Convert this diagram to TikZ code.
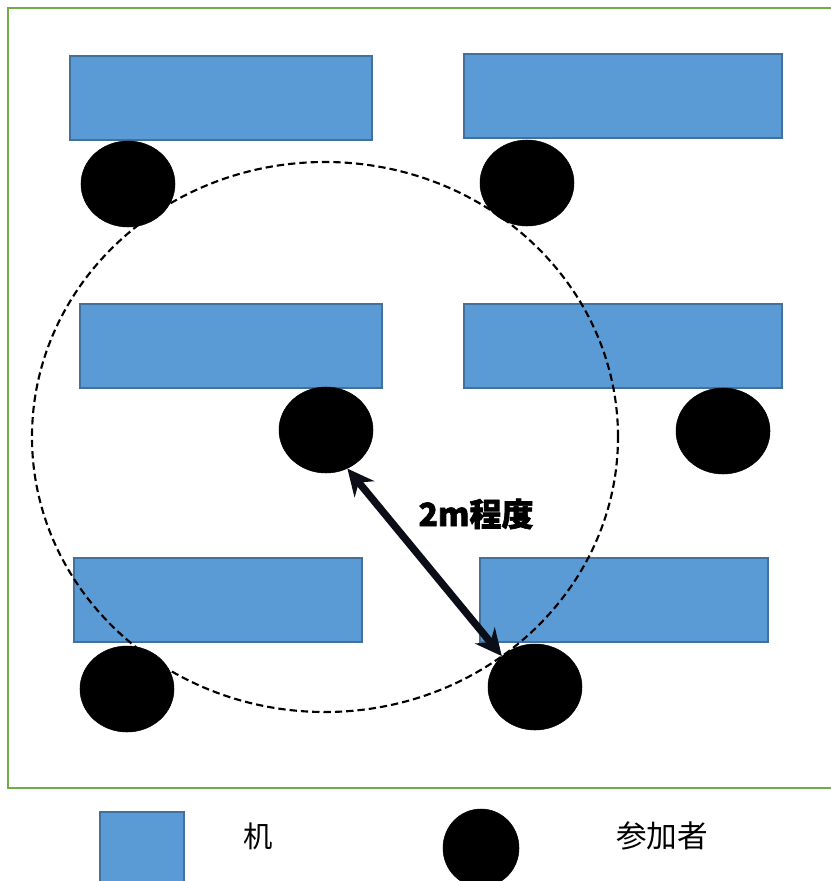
\documentclass[tikz,border=0pt]{standalone}
\usepackage{fontspec}
\newfontfamily\cjk{Noto Sans CJK JP}[BoldFeatures={FakeBold=2}]
\usetikzlibrary{shapes.geometric,arrows.meta}
\definecolor{deskfill}{HTML}{5B9BD5}
\definecolor{deskline}{HTML}{41719C}
\definecolor{roomline}{HTML}{70AD47}
\definecolor{arrowcol}{HTML}{0B0E17}
\tikzset{
  desk/.style={rectangle, fill=deskfill, draw=deskline, line width=1.8pt, inner sep=0pt, minimum height=63pt},
  person/.style={ellipse, fill=black, draw=black, inner sep=0pt, minimum width=70.5pt, minimum height=64.5pt},
  label/.style={font=\cjk, inner sep=0pt}
}
\begin{document}
\begin{tikzpicture}[x=0.75pt, y=-0.75pt]
\useasboundingbox (0,0) rectangle (831,881);
\clip (0,0) rectangle (831,881);
% room
\draw[roomline, line width=2.2pt] (840,788) -- (8,788) -- (8,8) -- (840,8);
% desks
\node[desk, minimum width=226.5pt] (d1) at (221,98) {};
\node[desk, minimum width=238.5pt] (d2) at (623,96) {};
\node[desk, minimum width=226.5pt] (d3) at (231,346) {};
\node[desk, minimum width=238.5pt] (d4) at (623,346) {};
\node[desk, minimum width=216pt] (d5) at (218,600) {};
\node[desk, minimum width=216pt] (d6) at (624,600) {};
% range circle
\node[ellipse, draw=black, line width=1.6pt, dash pattern=on 5.5pt off 3pt, minimum width=439.5pt, minimum height=412.5pt, inner sep=0pt] (range) at (325,437) {};
% participants
\node[person] (p1) at (128,184) {};
\node[person] (p2) at (527,183) {};
\node[person] (p3) at (326,430) {};
\node[person] (p4) at (723,431) {};
\node[person] (p5) at (127,689) {};
\node[person] (p6) at (535,687) {};
% distance arrow
\draw[arrowcol, line width=5.5pt, {Stealth[length=20pt,width=19pt]}-{Stealth[length=20pt,width=19pt]}] (p3.-61) -- (p6.137);
\node[label, font=\cjk\bfseries, text=black] (dist) at (476,514) {\fontsize{24pt}{26pt}\selectfont 2m程度};
% legend
\node[desk, minimum width=63pt, minimum height=75pt] (ldesk) at (142,862) {};
\node[label] (ldesktext) at (258,836) {\fontsize{22pt}{24pt}\selectfont 机};
\node[person, minimum width=57pt, minimum height=58.5pt] (lperson) at (481,848) {};
\node[label] (lpersontext) at (662,836) {\fontsize{23pt}{25pt}\selectfont 参加者};
\end{tikzpicture}
\end{document}
